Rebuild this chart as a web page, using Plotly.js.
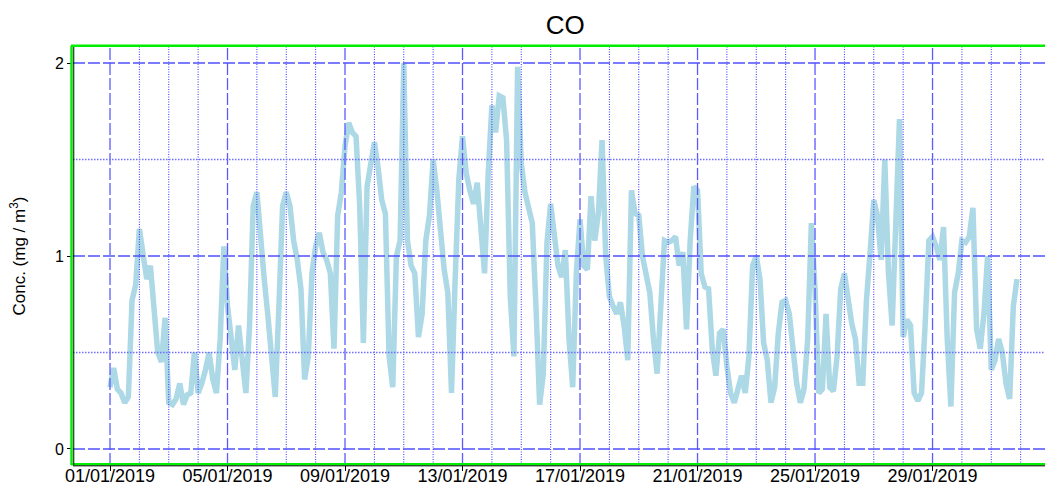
<!DOCTYPE html>
<html><head><meta charset="utf-8">
<script src="https://cdn.plot.ly/plotly-3.0.1.min.js"></script>
<style>html,body{margin:0;padding:0;background:#fff}#chart{width:1045px;height:486px}</style>
</head><body><div id="chart"></div>
<script>
// 3-hourly CO concentrations (mg/m3), 01/01/2019 00:00 onwards
const startDate = '2019-01-01T00:00:00Z';
const stepHours = 3;
const coValues = [
  0.32,0.42,0.31,0.29,0.24,0.27,0.77,0.85,   // 01
  1.14,1.00,0.88,0.95,0.72,0.50,0.45,0.68,   // 02
  0.24,0.23,0.26,0.34,0.23,0.28,0.29,0.50,   // 03
  0.29,0.34,0.41,0.50,0.36,0.29,0.57,1.05,   // 04
  0.74,0.60,0.41,0.64,0.46,0.29,0.64,1.26,   // 05
  1.33,1.08,0.88,0.69,0.48,0.27,0.74,1.26,   // 06
  1.33,1.26,1.08,0.98,0.83,0.36,0.48,0.91,   // 07
  1.05,1.12,1.02,0.98,0.91,0.52,1.21,1.33,   // 08
  1.57,1.69,1.64,1.62,1.26,0.55,1.36,1.50,   // 09
  1.59,1.46,1.29,1.22,0.48,0.32,1.00,1.08,   // 10
  2.00,1.08,0.95,0.91,0.58,0.70,1.08,1.21,   // 11
  1.50,1.34,1.14,0.93,0.81,0.29,0.88,1.40,   // 12
  1.62,1.43,1.34,1.27,1.38,1.12,0.91,1.43,   // 13
  1.78,1.64,1.83,1.82,1.60,0.79,0.48,1.98,   // 14
  1.48,1.33,1.26,1.17,0.74,0.23,0.39,1.07,   // 15
  1.27,1.12,0.95,0.89,1.03,0.57,0.32,0.91,   // 16
  1.19,0.95,0.93,1.31,1.08,1.22,1.60,1.00,   // 17
  0.79,0.74,0.70,0.76,0.64,0.46,1.34,1.22,   // 18
  1.21,1.00,0.91,0.81,0.57,0.39,0.74,1.08,   // 19
  1.07,1.08,1.10,0.95,1.02,0.62,1.08,1.36,   // 20
  1.34,0.91,0.84,0.83,0.52,0.38,0.60,0.62,   // 21
  0.43,0.29,0.24,0.31,0.38,0.29,0.48,0.95,   // 22
  1.00,0.88,0.55,0.46,0.24,0.32,0.60,0.76,   // 23
  0.77,0.70,0.53,0.34,0.24,0.31,0.57,1.17,   // 24
  0.83,0.29,0.31,0.70,0.32,0.30,0.48,0.83,   // 25
  0.91,0.77,0.65,0.57,0.34,0.34,0.77,1.02,   // 26
  1.29,1.21,0.98,1.50,0.91,0.64,1.26,1.71,   // 27
  0.58,0.67,0.64,0.29,0.25,0.29,0.65,1.08,   // 28
  1.10,1.05,0.98,1.15,0.57,0.22,0.81,0.91,   // 29
  1.08,1.07,1.10,1.25,0.62,0.52,0.70,1.00,   // 30
  0.41,0.46,0.57,0.50,0.34,0.26,0.74,0.88    // 31
];
const tickDates = ['2019-01-01','2019-01-05','2019-01-09','2019-01-13','2019-01-17','2019-01-21','2019-01-25','2019-01-29'];
const tickLabels = ['01/01/2019','05/01/2019','09/01/2019','13/01/2019','17/01/2019','21/01/2019','25/01/2019','29/01/2019'];
const yTickVals = [0, 1, 2];
const yGridVals = [0, 0.5, 1, 1.5, 2];
const xRange = ['2018-12-30 17:46', '2019-02-01 19:53'];
const yRange = [-0.083, 2.083];

function pad(n){return (n<10?'0':'')+n;}
function fmt(d){return d.getUTCFullYear()+'-'+pad(d.getUTCMonth()+1)+'-'+pad(d.getUTCDate())+' '+pad(d.getUTCHours())+':00';}
const t0 = new Date(startDate).getTime();
const times = coValues.map((v,i)=>fmt(new Date(t0 + i*stepHours*3600000)));

// grid lines drawn above the trace, as in the reference
const shapes = [];
const dayMs = 86400000;
const jan1 = Date.UTC(2019,0,1);
for (let k=0; k<=31; k++){
  const d = new Date(jan1 + k*dayMs);
  const major = (k % 4 === 0);
  shapes.push({type:'line', xref:'x', yref:'paper', x0:fmt(d), x1:fmt(d), y0:0, y1:1, layer:'above',
    line:{color: major ? 'rgb(90,90,255)' : 'rgb(50,50,255)', width: major ? 1.3 : 1, dash: major ? '12px,3px' : '1px,1.5px'}});
}
yGridVals.forEach(v=>{
  const major = (v % 1 === 0);
  shapes.push({type:'line', xref:'paper', yref:'y', x0:0, x1:1, y0:v, y1:v, layer:'above',
    line:{color: major ? 'rgb(80,80,255)' : 'rgb(110,110,255)', width: major ? 1.3 : 1.5, dash: major ? '12px,3px' : '1.5px,1.5px'}});
});
// frame: green border with black axis lines
shapes.push({type:'line', xref:'paper', yref:'paper', x0:-0.0015, x1:-0.0015, y0:0, y1:1.003, layer:'above', line:{color:'#00ee00', width:2.5}});
shapes.push({type:'line', xref:'paper', yref:'paper', x0:-0.002, x1:1.02, y0:1.003, y1:1.003, layer:'above', line:{color:'#00ee00', width:2.5}});
shapes.push({type:'line', xref:'paper', yref:'paper', x0:-0.002, x1:1.02, y0:0.002, y1:0.002, layer:'above', line:{color:'#00ee00', width:2.5}});
shapes.push({type:'line', xref:'paper', yref:'paper', x0:0.0008, x1:0.0008, y0:0, y1:1, layer:'above', line:{color:'#000', width:1}});
shapes.push({type:'line', xref:'paper', yref:'paper', x0:0, x1:1.02, y0:-0.002, y1:-0.002, layer:'above', line:{color:'#000', width:1}});

const trace = {
  x: times, y: coValues, type:'scatter', mode:'lines',
  line:{color:'#ADD8E6', width:5.5}, hoverinfo:'x+y'
};

const layout = {
  width:1045, height:486,
  margin:{l:73, r:0, t:47, b:21, pad:0},
  paper_bgcolor:'#fff', plot_bgcolor:'#fff',
  font:{family:'"Liberation Sans", Arial, sans-serif', color:'#000'},
  title:{text:'CO', font:{size:26, color:'#000'}, x:0.541, xref:'container', xanchor:'center', y:0.949, yanchor:'middle'},
  showlegend:false,
  xaxis:{type:'date', range:xRange, showgrid:false, zeroline:false, showline:false,
    tickmode:'array', tickvals:tickDates, ticktext:tickLabels,
    ticks:'outside', ticklen:5, tickcolor:'#000', ticklabelstandoff:-11, tickfont:{size:18, color:'#000'}},
  yaxis:{range:yRange, showgrid:false, zeroline:false, showline:false,
    tickmode:'array', tickvals:yTickVals, ticktext:yTickVals.map(String),
    ticks:'outside', ticklen:5, tickcolor:'#000', tickfont:{size:16, color:'#000'},
    title:{text:'Conc. (mg / m<sup>3</sup>)', font:{size:17, color:'#000'}, standoff:24}},
  shapes: shapes
};
Plotly.newPlot('chart', [trace], layout, {staticPlot:true, displayModeBar:false});
</script>
</body></html>
